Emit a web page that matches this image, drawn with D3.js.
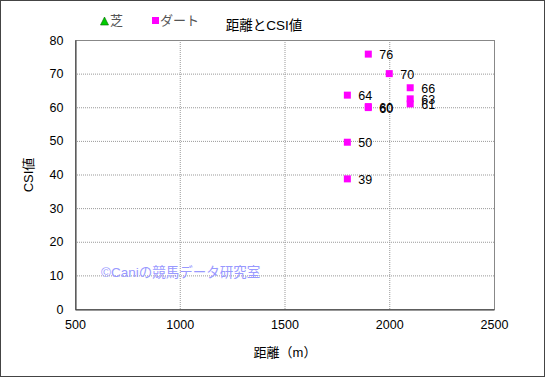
<!DOCTYPE html>
<html lang="ja">
<head>
<meta charset="UTF-8">
<title>距離とCSI値</title>
<script src="https://d3js.org/d3.v7.min.js"></script>
<style>
  body { margin: 0; background: #fff; }
  svg text { font-family: "Liberation Sans", "Noto Sans CJK JP", sans-serif; }
</style>
</head>
<body>
<div id="chart"></div>
<script>
// dart series: distance (m) and CSI value
const dartDist = [1900, 2000, 1800, 2100, 1900, 1900, 2100, 2100, 1800, 1800];
const dartCsi  = [75.8, 70.0, 63.6, 65.8, 60.2, 59.9, 62.5, 61.0, 49.6, 38.7];
const dartLbl  = ["76", "70", "64", "66", "60", "60", "63", "61", "50", "39"];
// turf series has no points in this chart
const turfDist = [];
const turfCsi = [];

const xTicks = [500, 1000, 1500, 2000, 2500];
const yTicks = [0, 10, 20, 30, 40, 50, 60, 70, 80];

const W = 545, H = 377;
const svg = d3.select("#chart").append("svg")
    .attr("width", W).attr("height", H);

// outer frame
svg.append("rect")
    .attr("x", 0.5).attr("y", 0.5)
    .attr("width", W - 1).attr("height", H - 1)
    .attr("fill", "#fff").attr("stroke", "#444");

const x = d3.scaleLinear().domain([500, 2500]).range([75, 494]);
const y = d3.scaleLinear().domain([0, 80]).range([309, 40]);

// grid
const grid = svg.append("g");
grid.selectAll(".gx").data(xTicks.slice(1, -1)).enter().append("line")
    .attr("x1", d => x(d) + 0.5).attr("x2", d => x(d) + 0.5)
    .attr("y1", y(80)).attr("y2", y(0))
    .attr("stroke", "#999").attr("stroke-dasharray", "1,1");
grid.selectAll(".gy").data(yTicks.slice(1, -1)).enter().append("line")
    .attr("x1", x(500)).attr("x2", x(2500))
    .attr("y1", d => y(d) + 0.5).attr("y2", d => y(d) + 0.5)
    .attr("stroke", "#999").attr("stroke-dasharray", "1,1");

// plot border (top/right gray)
svg.append("rect")
    .attr("x", x(500) + 0.5).attr("y", y(80) + 0.5)
    .attr("width", x(2500) - x(500)).attr("height", y(0) - y(80))
    .attr("fill", "none").attr("stroke", "#888");

// axes
const xAxis = d3.axisBottom(x).tickValues(xTicks).tickFormat(d3.format("d"))
    .tickSize(0).tickPadding(11);
const yAxis = d3.axisLeft(y).tickValues(yTicks).tickSize(0).tickPadding(12);

const gx = svg.append("g").attr("transform", `translate(0,${y(0) + 0.5})`).call(xAxis);
const gy = svg.append("g").attr("transform", `translate(${x(500) + 0.5},0)`).call(yAxis);
[gx, gy].forEach(g => {
  g.select(".domain").attr("stroke", "#333");
  g.selectAll("text").attr("font-size", 12.5).attr("fill", "#000")
    .style("font-family", "'Liberation Sans', sans-serif");
});

// watermark
svg.append("text")
    .attr("x", 101).attr("y", 277)
    .attr("font-size", 13.5).attr("fill", "#9999ff")
    .text("©Caniの競馬データ研究室");

// dart points
const pts = dartDist.map((d, i) => ({ d: d, v: dartCsi[i], l: dartLbl[i] }));
svg.selectAll(".pt").data(pts).enter().append("rect")
    .attr("x", p => x(p.d) - 3.5).attr("y", p => y(p.v) - 3.5)
    .attr("width", 7).attr("height", 7)
    .attr("fill", "#ff00ff");
svg.selectAll(".lb").data(pts).enter().append("text")
    .attr("x", p => x(p.d) + 11).attr("y", p => y(p.v) + 5)
    .attr("font-size", 12.5).attr("fill", "#000")
    .text(p => p.l);

// turf points (none)
svg.selectAll(".tp").data(turfDist).enter().append("path")
    .attr("d", d3.symbol(d3.symbolTriangle, 40))
    .attr("transform", (d, i) => `translate(${x(d)},${y(turfCsi[i])})`)
    .attr("fill", "#00cc00");

// legend
svg.append("path")
    .attr("d", "M100.5,25 L104.5,17 L108.5,25 Z")
    .attr("fill", "#00cc00").attr("stroke", "#006600").attr("stroke-width", 0.6);
svg.append("text").attr("x", 110).attr("y", 25)
    .attr("font-size", 13).attr("fill", "#555").text("芝");
svg.append("rect").attr("x", 152).attr("y", 17).attr("width", 7).attr("height", 7)
    .attr("fill", "#ff00ff");
svg.append("text").attr("x", 160).attr("y", 25)
    .attr("font-size", 13).attr("fill", "#555").text("ダート");

// title
svg.append("text").attr("x", 264).attr("y", 30)
    .attr("text-anchor", "middle").attr("font-size", 13.5).attr("fill", "#000")
    .text("距離とCSI値");

// axis titles
svg.append("text").attr("x", 285).attr("y", 357)
    .attr("text-anchor", "middle").attr("font-size", 13).attr("fill", "#000")
    .text("距離（m）");
svg.append("text")
    .attr("transform", "translate(33,175) rotate(-90)")
    .attr("text-anchor", "middle").attr("font-size", 13).attr("fill", "#000")
    .text("CSI値");
</script>
</body>
</html>
